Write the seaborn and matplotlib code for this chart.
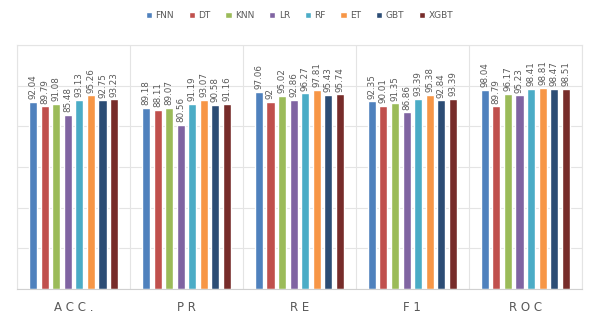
import seaborn as sns
import matplotlib.pyplot as plt
import numpy as np
import pandas as pd

metrics = ['ACC.', 'PR', 'RE', 'F1', 'ROC']
models = ['FNN', 'DT', 'KNN', 'LR', 'RF', 'ET', 'GBT', 'XGBT']
colors = ['#4F81BD', '#C0504D', '#9BBB59', '#8064A2', '#4BACC6', '#F79646', '#2C4D75', '#772C2A']

fnn = [92.04, 89.18, 97.06, 92.35, 98.04]
dt = [89.79, 88.11, 92.00, 90.01, 89.79]
knn = [91.08, 89.07, 95.02, 91.35, 96.17]
lr = [85.48, 80.56, 92.86, 86.86, 95.23]
rf = [93.13, 91.19, 96.27, 93.39, 98.41]
et = [95.26, 93.07, 97.81, 95.38, 98.81]
gbt = [92.75, 90.58, 95.43, 92.84, 98.47]
xgbt = [93.23, 91.16, 95.74, 93.39, 98.51]

scores = [fnn, dt, knn, lr, rf, et, gbt, xgbt]
rows = []
for m, vals in zip(models, scores):
    for k, v in zip(metrics, vals):
        rows.append({'Metric': k, 'Model': m, 'Score': v})
df = pd.DataFrame(rows)

sns.set_style('white')
fig = plt.figure(figsize=(5.9, 3.22), dpi=100)
ax = fig.add_axes([0.029, 0.1025, 0.957, 0.7575])

sns.barplot(data=df, x='Metric', y='Score', hue='Model', order=metrics, hue_order=models,
            palette=colors, width=0.82, gap=0.3, saturation=1, ax=ax)

for cont in ax.containers:
    ax.bar_label(cont, labels=[f'{v:g}' for v in cont.datavalues], rotation=90,
                 padding=2, fontsize=6.3, color='#595959')

ax.set_ylim(0, 120)
ax.set_yticks(np.arange(0, 121, 20))
ax.set_yticklabels([])
ax.tick_params(axis='y', length=0)
ax.set_xlim(-0.5, 4.5)
ax.set_xticks(np.arange(-0.5, 5, 1), minor=True)
ax.set_xticks(range(5))
ax.set_xticklabels([' '.join(list(m)) for m in metrics], fontsize=8.5, color='#595959')
ax.tick_params(axis='x', which='both', length=0, pad=9)
ax.grid(axis='y', color='#E4E4E4', linewidth=0.8)
ax.grid(axis='x', which='minor', color='#E4E4E4', linewidth=0.8)
ax.set_axisbelow(True)
ax.set_xlabel('')
ax.set_ylabel('')
for s in ax.spines.values():
    s.set_color('#E4E4E4')
    s.set_linewidth(0.8)
ax.spines['bottom'].set_color('#D0D0D0')

ax.legend(loc='center', bbox_to_anchor=(0.5, 1.12), ncol=8, frameon=False,
          fontsize=6.5, handlelength=0.7, handleheight=0.7, handletextpad=0.4,
          columnspacing=1.6, labelcolor='#595959')

fig.savefig('out.png', dpi=100)
